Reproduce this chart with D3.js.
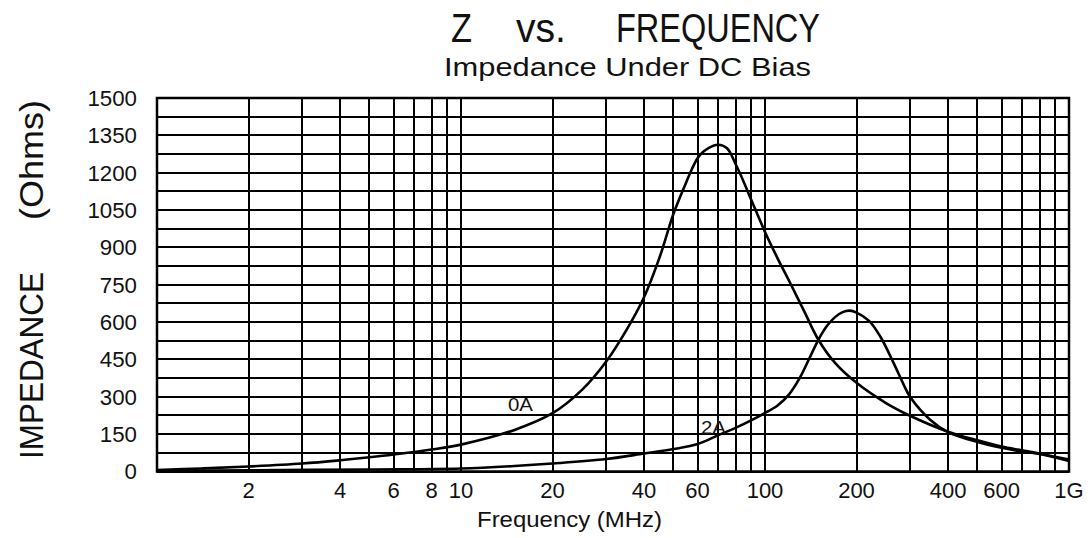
<!DOCTYPE html>
<html>
<head>
<meta charset="utf-8">
<script src="https://cdn.jsdelivr.net/npm/d3@7"></script>
<style>
  body { margin: 0; background: #fff; }
  text { font-family: "Liberation Sans", Arial, sans-serif; fill: #111; }
</style>
</head>
<body>
<div id="chart"></div>
<script>
// values (frequency in MHz, impedance in Ohms)
const freq0A = [1, 1.4, 2, 3, 4, 5, 6, 8, 10, 15, 20, 25, 30, 35, 40, 45, 50, 55, 57.5, 60, 62.5, 65, 70, 75, 80, 85, 90, 95, 100, 110, 120, 135, 150, 170, 200, 250, 300, 400, 500, 600, 700, 800, 1000];
const z0A = [6, 12, 20, 32, 45, 57, 68, 88, 108, 167, 234, 328, 441, 568, 700, 860, 1035, 1160, 1215, 1258, 1283, 1298, 1312, 1298, 1235, 1165, 1092, 1025, 962, 856, 766, 640, 528, 436, 356, 275, 224, 160, 125, 100, 85, 72, 48];

const freq2A = [1, 2, 5, 10, 15, 20, 30, 40, 50, 60, 70, 80, 90, 100, 110, 120, 130, 140, 150, 160, 170, 180, 190, 200, 220, 240, 265, 285, 300, 350, 400, 500, 600, 700, 800, 1000];
const z2A = [2, 5, 8, 12, 22, 32, 50, 72, 90, 110, 145, 175, 205, 235, 265, 310, 375, 455, 530, 585, 620, 640, 646, 638, 605, 540, 435, 352, 300, 207, 158, 118, 95, 80, 70, 42];

const xTickValues = [2, 4, 6, 8, 10, 20, 40, 60, 100, 200, 400, 600, 1000];
const xTickLabels = ["2", "4", "6", "8", "10", "20", "40", "60", "100", "200", "400", "600", "1G"];
const yTickValues = [0, 150, 300, 450, 600, 750, 900, 1050, 1200, 1350, 1500];

const width = 1091, height = 538;
const plot = { left: 157, right: 1069, top: 98, bottom: 471.5 };

const svg = d3.select("#chart").append("svg")
    .attr("width", width)
    .attr("height", height);

const x = d3.scaleLog().domain([1, 1000]).range([plot.left, plot.right]);
const y = d3.scaleLinear().domain([0, 1500]).range([plot.bottom, plot.top]);

// grid: every 75 ohms, every integer step of each decade
const hGrid = d3.range(0, 1501, 75);
const vGrid = [];
[1, 10, 100].forEach(d => d3.range(1, 10).forEach(k => vGrid.push(d * k)));
vGrid.push(1000);

svg.append("g").selectAll("line")
    .data(hGrid)
    .enter().append("line")
    .attr("x1", plot.left).attr("x2", plot.right)
    .attr("y1", d => y(d)).attr("y2", d => y(d))
    .attr("stroke", "#000").attr("stroke-width", 2)
    .attr("shape-rendering", "crispEdges");

svg.append("g").selectAll("line")
    .data(vGrid)
    .enter().append("line")
    .attr("x1", d => x(d)).attr("x2", d => x(d))
    .attr("y1", plot.top).attr("y2", plot.bottom)
    .attr("stroke", "#000").attr("stroke-width", 2)
    .attr("shape-rendering", "crispEdges");

svg.append("rect")
    .attr("x", plot.left).attr("y", plot.top)
    .attr("width", plot.right - plot.left).attr("height", plot.bottom - plot.top)
    .attr("fill", "none").attr("stroke", "#000").attr("stroke-width", 2.5);

// axis labels
svg.append("g").selectAll("text")
    .data(yTickValues)
    .enter().append("text")
    .attr("x", 137)
    .attr("y", d => y(d))
    .attr("dy", "0.36em")
    .attr("text-anchor", "end")
    .attr("font-size", 22)
    .attr("textLength", d => String(d).length * 12.4)
    .attr("lengthAdjust", "spacingAndGlyphs")
    .text(d => d);

svg.append("g").selectAll("text")
    .data(xTickValues)
    .enter().append("text")
    .attr("x", d => x(d))
    .attr("y", 498)
    .attr("text-anchor", "middle")
    .attr("font-size", 22)
    .text((d, i) => xTickLabels[i]);

svg.append("text")
    .attr("x", 477).attr("y", 527)
    .attr("font-size", 22)
    .attr("textLength", 185)
    .attr("lengthAdjust", "spacingAndGlyphs")
    .text("Frequency (MHz)");

// y title
const yTitle = svg.append("g").attr("transform", "translate(43,0) rotate(-90)");
yTitle.append("text")
    .attr("x", -459).attr("y", 0)
    .attr("font-size", 33)
    .attr("textLength", 187)
    .attr("lengthAdjust", "spacingAndGlyphs")
    .text("IMPEDANCE");
yTitle.append("text")
    .attr("x", -220).attr("y", 0)
    .attr("font-size", 33)
    .attr("textLength", 120)
    .attr("lengthAdjust", "spacingAndGlyphs")
    .text("(Ohms)");

// titles
const title = svg.append("text").attr("y", 42).attr("font-size", 40);
title.append("tspan").attr("x", 451).attr("textLength", 21).attr("lengthAdjust", "spacingAndGlyphs").text("Z");
title.append("tspan").attr("x", 516).attr("textLength", 50).attr("lengthAdjust", "spacingAndGlyphs").text("vs.");
title.append("tspan").attr("x", 616).attr("textLength", 204).attr("lengthAdjust", "spacingAndGlyphs").text("FREQUENCY");

svg.append("text")
    .attr("x", 444).attr("y", 76)
    .attr("font-size", 25)
    .attr("textLength", 367)
    .attr("lengthAdjust", "spacingAndGlyphs")
    .text("Impedance Under DC Bias");

// curves
const line = d3.line()
    .x(d => x(d[0]))
    .y(d => y(d[1]))
    .curve(d3.curveCatmullRom.alpha(0.5));

svg.append("path")
    .datum(d3.zip(freq0A, z0A))
    .attr("d", line)
    .attr("fill", "none").attr("stroke", "#000").attr("stroke-width", 2.6);

svg.append("path")
    .datum(d3.zip(freq2A, z2A))
    .attr("d", line)
    .attr("fill", "none").attr("stroke", "#000").attr("stroke-width", 2.6);

svg.append("text")
    .attr("x", 508).attr("y", 411)
    .attr("font-size", 18)
    .attr("textLength", 25)
    .attr("lengthAdjust", "spacingAndGlyphs")
    .text("0A");

svg.append("text")
    .attr("x", 701).attr("y", 434)
    .attr("font-size", 18)
    .attr("textLength", 25)
    .attr("lengthAdjust", "spacingAndGlyphs")
    .text("2A");
</script>
</body>
</html>
